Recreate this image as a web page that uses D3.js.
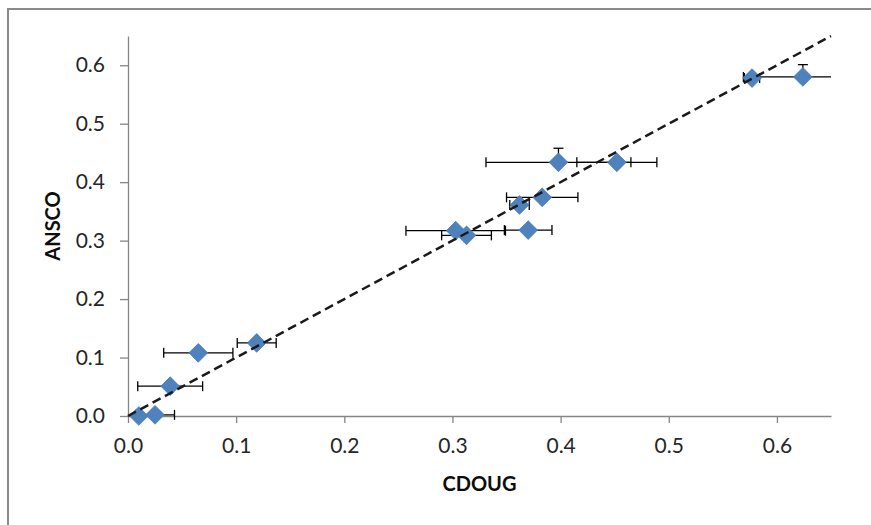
<!DOCTYPE html>
<html>
<head>
<meta charset="utf-8">
<script src="https://cdn.jsdelivr.net/npm/d3@7"></script>
<style>
  html, body { margin: 0; padding: 0; background: #fff; }
  svg { display: block; }
</style>
</head>
<body>
<div id="chart"></div>
<script>
// values
const cdoug     = [0.010, 0.025, 0.039, 0.065, 0.119, 0.303, 0.313, 0.370, 0.362, 0.383, 0.398, 0.452, 0.577, 0.624];
const ansco     = [0.000, 0.002, 0.051, 0.108, 0.125, 0.317, 0.309, 0.318, 0.361, 0.374, 0.434, 0.434, 0.578, 0.580];
const cdougErr  = [0.000, 0.018, 0.030, 0.032, 0.018, 0.046, 0.023, 0.022, 0.009, 0.033, 0.067, 0.037, 0.007, 0.055];
// only the upper half of the ANSCO error bars shows above the markers
const anscoErrPlus = [0, 0, 0, 0, 0, 0, 0, 0, 0, 0, 0.024, 0, 0, 0.021];
const tickVals  = [0, 0.1, 0.2, 0.3, 0.4, 0.5, 0.6];
const axisMax   = 0.65;

const width = 871, height = 525;
const plot = { left: 128, right: 831, top: 36, bottom: 416 };

const svg = d3.select("#chart").append("svg")
    .attr("width", width)
    .attr("height", height);

// chart area border (only left and top edges show in the window)
svg.append("rect")
    .attr("x", 8).attr("y", 9)
    .attr("width", 900).attr("height", 600)
    .attr("fill", "none")
    .attr("stroke", "#8a8a8a")
    .attr("stroke-width", 2);

const x = d3.scaleLinear().domain([0, axisMax]).range([plot.left, plot.right]);
const y = d3.scaleLinear().domain([0, axisMax]).range([plot.bottom, plot.top]);

const fmt = d3.format(".1f");
const tickFont = "Lato, 'Open Sans', sans-serif";

const xAxis = svg.append("g")
    .attr("transform", `translate(0,${plot.bottom})`)
    .call(d3.axisBottom(x).tickValues(tickVals).tickFormat(fmt).tickSize(7).tickSizeOuter(0).tickPadding(15));

const yAxis = svg.append("g")
    .attr("transform", `translate(${plot.left},0)`)
    .call(d3.axisLeft(y).tickValues(tickVals).tickFormat(fmt).tickSize(8).tickSizeOuter(0).tickPadding(15));

[xAxis, yAxis].forEach(g => {
    g.select(".domain").attr("stroke", "#868686").attr("stroke-width", 1.3);
    g.selectAll(".tick line").attr("stroke", "#868686").attr("stroke-width", 1.3);
    g.selectAll(".tick text")
        .attr("fill", "#262626")
        .style("font-family", tickFont)
        .style("font-size", "21px");
});

// axis titles
svg.append("text")
    .attr("x", (plot.left + plot.right) / 2)
    .attr("y", 491)
    .attr("text-anchor", "middle")
    .style("font-family", tickFont)
    .style("font-weight", "bold")
    .style("font-size", "20px")
    .attr("fill", "#0d0d0d")
    .text("CDOUG");

svg.append("text")
    .attr("transform", `translate(60,${(plot.top + plot.bottom) / 2}) rotate(-90)`)
    .attr("text-anchor", "middle")
    .style("font-family", tickFont)
    .style("font-weight", "bold")
    .style("font-size", "20px")
    .attr("fill", "#0d0d0d")
    .text("ANSCO");

// clip so error bars stop at the plot edge
svg.append("clipPath").attr("id", "plot-clip")
  .append("rect")
    .attr("x", plot.left).attr("y", plot.top - 10)
    .attr("width", plot.right - plot.left).attr("height", plot.bottom - plot.top + 20);

const points = cdoug.map((v, i) => ({ x: v, y: ansco[i], ex: cdougErr[i], ey: anscoErrPlus[i] }));

const capHalf = 5;
const errG = svg.append("g")
    .attr("clip-path", "url(#plot-clip)")
    .attr("stroke", "#000")
    .attr("stroke-width", 1.3)
    .attr("fill", "none");

points.filter(d => d.ex > 0).forEach(d => {
    const x0 = x(d.x - d.ex), x1 = x(d.x + d.ex), py = y(d.y);
    errG.append("line").attr("x1", x0).attr("x2", x1).attr("y1", py).attr("y2", py);
    errG.append("line").attr("x1", x0).attr("x2", x0).attr("y1", py - capHalf).attr("y2", py + capHalf);
    errG.append("line").attr("x1", x1).attr("x2", x1).attr("y1", py - capHalf).attr("y2", py + capHalf);
});

points.filter(d => d.ey > 0).forEach(d => {
    const y1 = y(d.y + d.ey), px = x(d.x);
    errG.append("line").attr("x1", px).attr("x2", px).attr("y1", y(d.y)).attr("y2", y1);
    errG.append("line").attr("x1", px - capHalf).attr("x2", px + capHalf).attr("y1", y1).attr("y2", y1);
});

// diamond markers
const diamond = d3.symbol().type(d3.symbolSquare).size(175);
svg.append("g")
    .selectAll("path")
    .data(points)
    .join("path")
    .attr("d", diamond)
    .attr("transform", d => `translate(${x(d.x)},${y(d.y)}) rotate(45)`)
    .attr("fill", "#4f81bd")
    .attr("stroke", "#4a7ebb")
    .attr("stroke-width", 0.8);

// 1:1 dashed line
svg.append("line")
    .attr("x1", x(0)).attr("y1", y(0))
    .attr("x2", x(axisMax)).attr("y2", y(axisMax))
    .attr("stroke", "#1a1a1a")
    .attr("stroke-width", 2.5)
    .attr("stroke-dasharray", "9,5");
</script>
</body>
</html>
